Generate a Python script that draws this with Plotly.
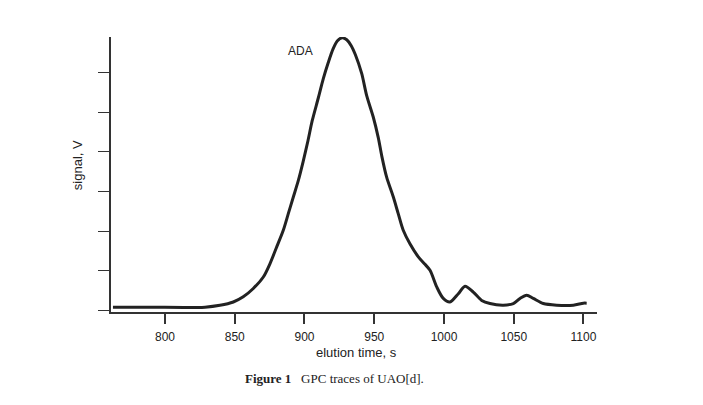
import plotly.graph_objects as go

# GPC trace
elution_time = [762.7, 789.2, 828.7, 839.4, 849.0, 856.1, 863.3, 870.5, 875.3, 880.1,
                884.8, 888.4, 892.0, 895.6, 899.0, 902.5, 905.5, 909.9, 913.5, 917.0,
                920.5, 923.5, 927.0, 930.3, 933.5, 936.5, 941.0, 944.6, 949.3, 952.9,
                955.5, 958.9, 963.7, 967.2, 970.8, 975.6, 981.6, 986.4, 990.0, 994.8,
                999.5, 1004.3, 1010.3, 1015.1, 1021.0, 1027.0, 1033.0, 1042.5, 1049.7, 1054.5,
                1059.3, 1064.0, 1071.2, 1080.8, 1092.7, 1099.9, 1102.3]
signal = [0.076, 0.076, 0.08, 0.126, 0.21, 0.34, 0.55, 0.84, 1.18, 1.60,
          2.02, 2.44, 2.86, 3.28, 3.75, 4.28, 4.78, 5.36, 5.85, 6.25,
          6.60, 6.80, 6.88, 6.83, 6.68, 6.45, 5.98, 5.42, 4.88, 4.36,
          3.88, 3.36, 2.86, 2.44, 2.02, 1.68, 1.35, 1.16, 1.01, 0.59,
          0.30, 0.21, 0.42, 0.61, 0.46, 0.25, 0.17, 0.13, 0.17, 0.30,
          0.38, 0.30, 0.17, 0.13, 0.13, 0.18, 0.18]
x_ticks = [800, 850, 900, 950, 1000, 1050, 1100]
y_ticks = [0, 1, 2, 3, 4, 5, 6]

fig = go.Figure()
fig.add_trace(go.Scatter(x=elution_time, y=signal, mode="lines",
                         line=dict(color="#222222", width=3, shape="spline", smoothing=0.8),
                         showlegend=False, hoverinfo="skip"))

fig.add_annotation(x=897, y=6.54, text="ADA", showarrow=False,
                   font=dict(family="Liberation Sans", size=12, color="#222"))

# axis titles and caption (explicit anchors so they sit centred on the point)
fig.add_annotation(xref="paper", yref="paper", x=-0.07, y=0.534, text="signal, V",
                   textangle=-90, showarrow=False, xanchor="center", yanchor="middle",
                   font=dict(family="Liberation Sans", size=13, color="#222"))
fig.add_annotation(xref="paper", yref="paper", x=0.506, y=-0.147, text="elution time, s",
                   showarrow=False, xanchor="center", yanchor="middle",
                   font=dict(family="Liberation Sans", size=13, color="#222"))
fig.add_annotation(xref="paper", yref="paper", x=0.459, y=-0.241,
                   text="<b>Figure 1</b>   GPC traces of UAO[d].", showarrow=False,
                   xanchor="center", yanchor="middle",
                   font=dict(family="Liberation Serif", size=13, color="#222"))

fig.update_xaxes(range=[761.3, 1109.7], tickvals=x_ticks, ticks="outside", ticklen=10,
                 tickwidth=1.5, tickcolor="#333", showline=True, linecolor="#333",
                 linewidth=1.5, showgrid=False, zeroline=False, ticklabelstandoff=3,
                 tickfont=dict(family="Liberation Sans", size=12, color="#222"))
fig.update_yaxes(range=[-0.043, 6.9], tickvals=y_ticks, ticks="outside", ticklen=11,
                 tickwidth=1.2, tickcolor="#333", showline=True, linecolor="#333",
                 linewidth=1.5, showgrid=False, zeroline=False, showticklabels=False)

# page body adds an 8px offset, so the figure is a bit smaller than the window
fig.update_layout(width=695, height=397, plot_bgcolor="white", paper_bgcolor="white",
                  margin=dict(l=103, r=106, t=29, b=93))

fig.write_html("out.html")
